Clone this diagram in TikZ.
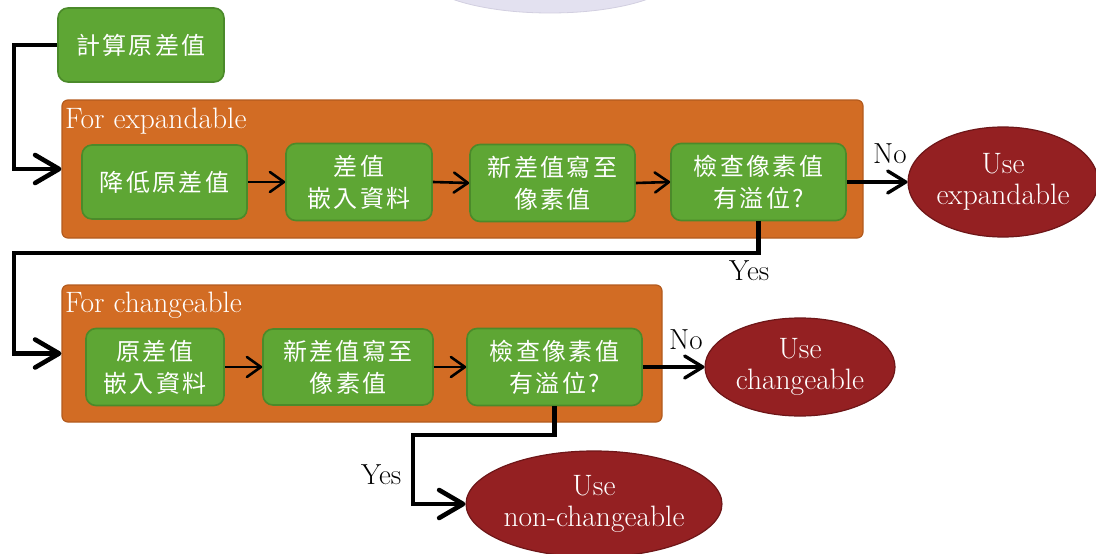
\documentclass[tikz,border=0pt]{standalone}
\usepackage{fontspec}
\newfontfamily\zhfont[LetterSpace=10]{Noto Sans CJK TC}
\usetikzlibrary{arrows.meta,shapes.geometric}

\definecolor{boxgreen}{HTML}{5EA634}
\definecolor{boxgreenedge}{HTML}{4B8A2A}
\definecolor{panelorange}{HTML}{D26C24}
\definecolor{panelorangeedge}{HTML}{B35B1E}
\definecolor{endred}{HTML}{942022}
\definecolor{endrededge}{HTML}{6E1618}
\definecolor{haze}{HTML}{E3E1F0}
\definecolor{hazeedge}{HTML}{D2CFE0}

\newcommand\zhtext{\zhfont\fontsize{24}{32}\selectfont}
\newcommand\entext{\fontsize{29.5}{31}\selectfont}
\newcommand\lbltext{\fontsize{29}{30}\selectfont}

\begin{document}
\begin{tikzpicture}[x=1pt,y=-1pt,
  stepbox/.style={rectangle, rounded corners=10pt, fill=boxgreen,
    draw=boxgreenedge, line width=1.6pt, text=white, align=center,
    inner sep=0pt, font=\zhtext},
  panel/.style={rectangle, rounded corners=6pt, fill=panelorange,
    draw=panelorangeedge, line width=1.2pt, inner sep=0pt},
  paneltitle/.style={anchor=base west, inner sep=0pt, text=white, font=\entext},
  endnode/.style={ellipse, fill=endred, draw=endrededge, line width=1.2pt,
    text=white, align=center, inner sep=0pt, font=\entext},
  answer/.style={anchor=base west, inner sep=0pt, font=\lbltext},
  bigarrow/.style={line width=4.6pt,
    -{Straight Barb[length=24pt,width=28pt,round]}},
  midarrow/.style={line width=3.4pt,
    -{Straight Barb[length=18pt,width=22pt,round]}},
  smallarrow/.style={line width=2.6pt,
    -{Straight Barb[length=14pt,width=20pt,round]}},
]
\useasboundingbox (0,0) rectangle (1096,554);

% faint decoration peeking in at the top edge
\fill[haze, draw=hazeedge, line width=0.8pt] (550,-27) ellipse [x radius=129, y radius=40];

% orange panels
\node[panel, minimum width=801pt, minimum height=138pt] (cont1) at (462.5,169) {};
\node[paneltitle] (title1) at (65,128) {For expandable};
\node[panel, minimum width=600pt, minimum height=137pt] (cont2) at (362,353.5) {};
\node[paneltitle] (title2) at (65,312) {For changeable};

% steps
\node[stepbox, minimum width=166pt, minimum height=74pt] (calc) at (141,45) {計算原差值};

\node[stepbox, minimum width=165pt, minimum height=74pt] (b1) at (164.5,182) {降低原差值};
\node[stepbox, minimum width=146pt, minimum height=77pt] (b2) at (359,182) {差值\\嵌入資料};
\node[stepbox, minimum width=165pt, minimum height=77pt] (b3) at (552.5,183) {新差值寫至\\像素值};
\node[stepbox, minimum width=175pt, minimum height=77pt] (chk1) at (758.5,182) {檢查像素值\\有溢位?};

\node[stepbox, minimum width=138pt, minimum height=77pt] (c1) at (155,367) {原差值\\嵌入資料};
\node[stepbox, minimum width=170pt, minimum height=76pt] (c2) at (348,367) {新差值寫至\\像素值};
\node[stepbox, minimum width=175pt, minimum height=77pt] (chk2) at (554.5,367) {檢查像素值\\有溢位?};

% outcomes
\node[endnode, minimum width=190pt, minimum height=110pt] (use1) at (1003,182) {Use\\expandable};
\node[endnode, minimum width=190pt, minimum height=98pt] (use2) at (800,367) {Use\\changeable};
\node[endnode, minimum width=252pt, minimum height=106pt] (use3) at (594,504) {Use\\non-changeable};

% routing points of the long connectors
\coordinate (lane0) at (14,45);
\coordinate (lane1) at (14,253);
\coordinate (lane2) at (413,435);

% connectors
\draw[bigarrow] (calc.west) -- (lane0) |- (cont1.west);
\draw[bigarrow] (chk1.south) |- (lane1) |- (cont2.west);
\draw[bigarrow] (chk2.south) |- (lane2) |- (use3.west);

\draw[smallarrow] (b1.east) -- (b2.west);
\draw[smallarrow] (b2.east) -- (b3.west);
\draw[smallarrow] (b3.east) -- (chk1.west);
\draw[smallarrow] (c1.east) -- (c2.west);
\draw[smallarrow] (c2.east) -- (chk2.west);

\draw[midarrow] (chk1.east) -- (use1.west);
\draw[midarrow] (chk2.east) -- (use2.west);

% branch labels
\node[answer] (no1) at (873,163) {No};
\node[answer] (yes1) at (729,280) {Yes};
\node[answer] (no2) at (669,349) {No};
\node[answer] (yes2) at (361,484) {Yes};
\end{tikzpicture}
\end{document}
